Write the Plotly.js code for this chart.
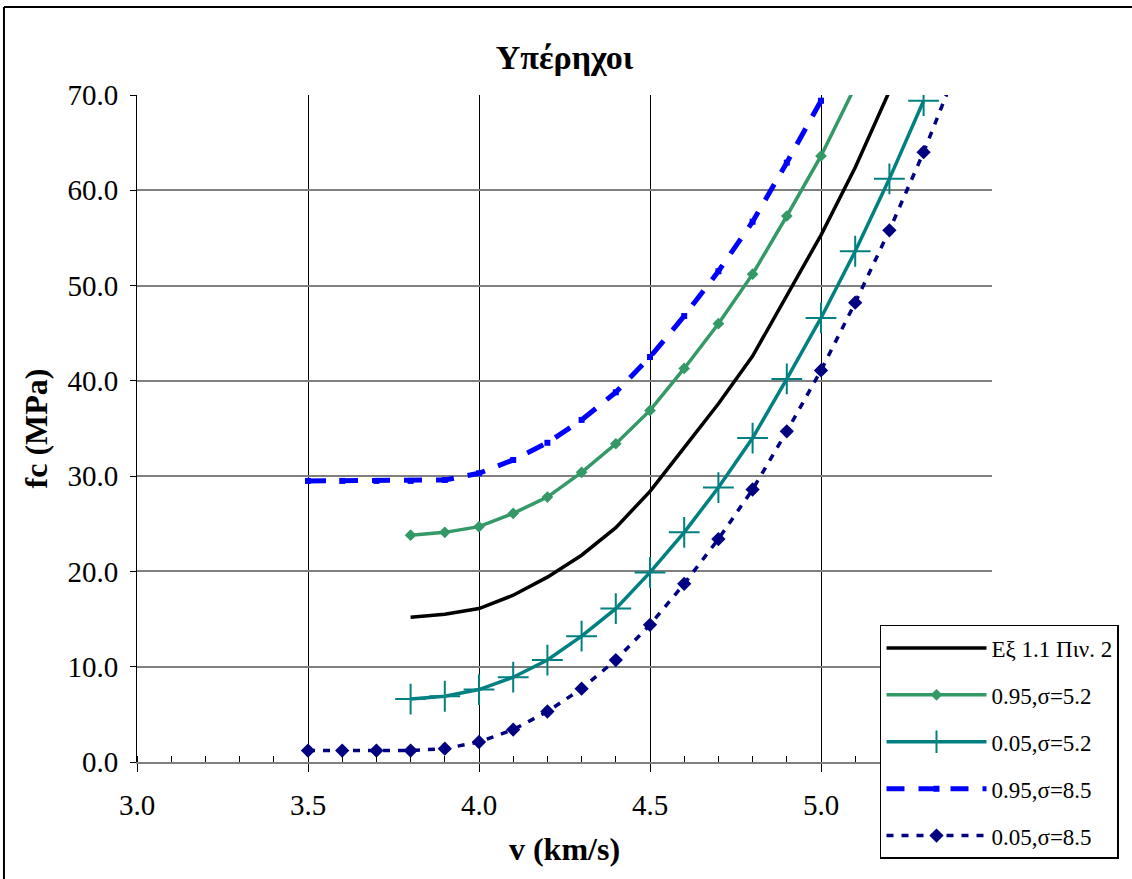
<!DOCTYPE html>
<html>
<head>
<meta charset="utf-8">
<script src="https://cdn.plot.ly/plotly-3.0.1.min.js"></script>
<style>
  html, body { margin: 0; padding: 0; background: #ffffff; }
  #chart { width: 1132px; height: 879px; }
</style>
</head>
<body>
<div id="chart"></div>
<script>
// ---- data ----
const chartTitle = "Υπέρηχοι";
const xTitle = "v (km/s)";
const yTitle = "fc (MPa)";

const seriesNames = ["Eξ 1.1 Πιν. 2", "0.95,σ=5.2", "0.05,σ=5.2", "0.95,σ=8.5", "0.05,σ=8.5"];

const vEq = [3.8, 3.9, 4.0, 4.1, 4.2, 4.3, 4.4, 4.5, 4.6, 4.7, 4.8, 4.9, 5.0, 5.1, 5.2];
const fcEq = [15.2, 15.5, 16.1, 17.5, 19.4, 21.7, 24.6, 28.4, 33.0, 37.6, 42.6, 49.0, 55.3, 62.4, 70.4];

const vHi52 = [3.8, 3.9, 4.0, 4.1, 4.2, 4.3, 4.4, 4.5, 4.6, 4.7, 4.8, 4.9, 5.0, 5.1];
const fcHi52 = [23.8, 24.1, 24.7, 26.1, 27.8, 30.4, 33.4, 36.9, 41.3, 46.0, 51.2, 57.3, 63.6, 70.9];

const vLo52 = [3.8, 3.9, 4.0, 4.1, 4.2, 4.3, 4.4, 4.5, 4.6, 4.7, 4.8, 4.9, 5.0, 5.1, 5.2, 5.3];
const fcLo52 = [6.6, 6.9, 7.6, 8.9, 10.7, 13.2, 16.1, 19.9, 24.1, 28.8, 34.0, 40.2, 46.6, 53.6, 61.2, 69.4];

const vHi85 = [3.5, 3.6, 3.7, 3.8, 3.9, 4.0, 4.1, 4.2, 4.3, 4.4, 4.5, 4.6, 4.7, 4.8, 4.9, 5.0];
const fcHi85 = [29.5, 29.5, 29.5, 29.5, 29.6, 30.3, 31.7, 33.5, 35.9, 38.8, 42.5, 46.8, 51.5, 56.7, 62.9, 69.4];

const vLo85 = [3.5, 3.6, 3.7, 3.8, 3.9, 4.0, 4.1, 4.2, 4.3, 4.4, 4.5, 4.6, 4.7, 4.8, 4.9, 5.0, 5.1, 5.2, 5.3, 5.4];
const fcLo85 = [1.2, 1.2, 1.2, 1.2, 1.4, 2.1, 3.4, 5.3, 7.7, 10.7, 14.4, 18.7, 23.4, 28.6, 34.7, 41.1, 48.2, 55.8, 64.0, 73.0];

// the 5.5 label is hidden behind the legend in the reference
const xTickVals = [3.0, 3.5, 4.0, 4.5, 5.0, 5.5];
const xTickText = ["3.0", "3.5", "4.0", "4.5", "5.0", ""];
const yTickVals = [0, 10, 20, 30, 40, 50, 60, 70];
const yTickText = ["0.0", "10.0", "20.0", "30.0", "40.0", "50.0", "60.0", "70.0"];

// ---- traces ----
const serif = "'Liberation Serif', 'Times New Roman', serif";

const traces = [
  {
    x: vEq, y: fcEq, name: seriesNames[0], legendgroup: "g1",
    type: "scatter", mode: "lines",
    line: { color: "#000000", width: 3.5 }
  },
  {
    x: vHi52, y: fcHi52, name: seriesNames[1], legendgroup: "g2",
    type: "scatter", mode: "lines+markers",
    line: { color: "#339966", width: 3.5 },
    marker: { symbol: "diamond", size: 9, color: "#339966" }
  },
  {
    x: vLo52, y: fcLo52, name: seriesNames[2], legendgroup: "g3",
    type: "scatter", mode: "lines+markers",
    line: { color: "#008080", width: 3.5 },
    marker: { symbol: "cross-thin", size: 22, color: "#008080", line: { color: "#008080", width: 2 } }
  },
  {
    x: vHi85, y: fcHi85, name: seriesNames[3], legendgroup: "g4",
    type: "scatter", mode: "lines+markers",
    line: { color: "#0000FF", width: 5, dash: "18px,14px" },
    marker: { symbol: "square", size: 6, color: "#0000FF" }
  },
  {
    x: vLo85, y: fcLo85, name: seriesNames[4], legendgroup: "g5",
    type: "scatter", mode: "lines+markers",
    line: { color: "#000080", width: 3.5, dash: "7px,8px" },
    marker: { symbol: "diamond", size: 11, color: "#000080" }
  }
];

// ---- layout ----
const layout = {
  width: 1132, height: 879,
  margin: { l: 137, r: 140, t: 95, b: 117, pad: 0 },
  paper_bgcolor: "#ffffff",
  plot_bgcolor: "#ffffff",
  font: { family: serif, color: "#000000" },
  title: {
    text: "<b>" + chartTitle + "</b>",
    font: { family: serif, size: 34, color: "#000000" },
    x: 0.5, xref: "paper", xanchor: "center",
    y: 0.935, yref: "container", yanchor: "middle"
  },
  xaxis: {
    range: [3.0, 5.5],
    tickmode: "array", tickvals: xTickVals, ticktext: xTickText,
    ticks: "outside", ticklen: 8, tickwidth: 1, tickcolor: "#000000",
    ticklabelstandoff: 8,
    tickfont: { family: serif, size: 29, color: "#000000" },
    showgrid: true, gridcolor: "#000000", gridwidth: 1,
    minor: { dtick: 0.1, ticks: "inside", ticklen: 6, tickcolor: "#000000", tickwidth: 1, showgrid: false },
    showline: true, linecolor: "#808080", linewidth: 2,
    zeroline: false,
    title: { text: "<b>" + xTitle + "</b>", font: { family: serif, size: 32, color: "#000000" }, standoff: 18 }
  },
  yaxis: {
    range: [0, 70],
    tickmode: "array", tickvals: yTickVals, ticktext: yTickText,
    ticks: "outside", ticklen: 6, tickwidth: 1, tickcolor: "#000000",
    ticklabelstandoff: 6,
    tickfont: { family: serif, size: 29, color: "#000000" },
    showgrid: true, gridcolor: "#808080", gridwidth: 2,
    showline: true, linecolor: "#000000", linewidth: 1,
    zeroline: false,
    title: { text: "<b>" + yTitle + "</b>", font: { family: serif, size: 32, color: "#000000" }, standoff: 10 }
  },
  showlegend: true,
  legend: {
    x: 0.869, xanchor: "left", xref: "paper",
    y: 0.2054, yanchor: "top", yref: "paper",
    bgcolor: "#ffffff", bordercolor: "#000000", borderwidth: 1.5,
    font: { family: serif, size: 23, color: "#000000" },
    itemwidth: 100,
    tracegroupgap: 14
  },
  shapes: [
    { type: "line", xref: "paper", yref: "paper", x0: -0.1556, x1: 1.2, y0: 1.1319, y1: 1.1319,
      line: { color: "#000000", width: 2 }, layer: "above" },
    { type: "line", xref: "paper", yref: "paper", x0: -0.1556, x1: -0.1556, y0: 1.1319, y1: -0.2,
      line: { color: "#000000", width: 2 }, layer: "above" }
  ]
};

Plotly.newPlot("chart", traces, layout, { displayModeBar: false, staticPlot: true });
</script>
</body>
</html>
